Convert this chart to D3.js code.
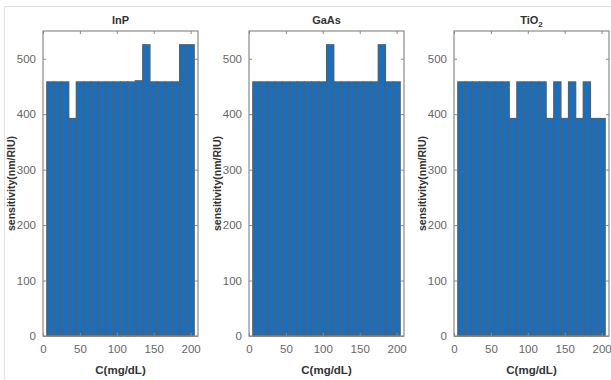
<!DOCTYPE html>
<html lang="en">
<head>
<meta charset="utf-8">
<title>Sensitivity vs concentration</title>
<script src="https://d3js.org/d3.v7.min.js"></script>
<style>
  body { margin: 0; background: #fff; }
  svg { font-family: "Liberation Sans", Arial, sans-serif; }
</style>
</head>
<body>
<script>
// concentration values (mg/dL)
var conc = [10, 20, 30, 40, 50, 60, 70, 80, 90, 100, 110, 120, 130, 140, 150, 160, 170, 180, 190, 200];

// sensitivity (nm/RIU) for each material
var inp  = [458, 458, 458, 392, 458, 458, 458, 458, 458, 458, 458, 458, 460, 525, 458, 458, 458, 458, 525, 525];
var gaas = [458, 458, 458, 458, 458, 458, 458, 458, 458, 458, 525, 458, 458, 458, 458, 458, 458, 525, 458, 458];
var tio2 = [458, 458, 458, 458, 458, 458, 458, 392, 458, 458, 458, 458, 392, 458, 392, 458, 392, 458, 392, 392];

var titles = ["InP", "GaAs", "TiO2"];
var series = [inp, gaas, tio2];
var xTicks = [0, 50, 100, 150, 200];
var yTicks = [0, 100, 200, 300, 400, 500];

var w = 611, h = 380;
var panelLeft = [43, 249, 454];
var pw = 155;
var plotTop = 31, plotBottom = 336;

var svg = d3.select("body").append("svg")
  .attr("width", w)
  .attr("height", h);

// faint frame of the figure
svg.append("rect")
  .attr("x", 4.5).attr("y", 6.5)
  .attr("width", 620).attr("height", 400)
  .attr("fill", "none")
  .attr("stroke", "#e4e4e4");

var yScale = d3.scaleLinear().domain([0, 550]).range([plotBottom, plotTop]);

series.forEach(function(vals, i) {
  var x0 = panelLeft[i];
  var xScale = d3.scaleLinear().domain([0, 210]).range([x0, x0 + pw]);
  var g = svg.append("g");
  var bw = xScale(10) - xScale(0);

  // bars
  g.selectAll("rect.bar")
    .data(conc)
    .enter()
    .append("rect")
    .attr("class", "bar")
    .attr("x", (d) => xScale(d) - bw * 0.47)
    .attr("width", bw * 0.94)
    .attr("y", (d, j) => yScale(vals[j]))
    .attr("height", (d, j) => plotBottom - yScale(vals[j]))
    .attr("fill", "#1470c4")
    .attr("stroke", "#55606a")
    .attr("stroke-width", 1.5);

  // box
  g.append("rect")
    .attr("x", x0).attr("y", plotTop)
    .attr("width", pw).attr("height", plotBottom - plotTop)
    .attr("fill", "none")
    .attr("stroke", "#8a8a8a")
    .attr("stroke-width", 1.2);

  // axes (ticks pointing inward)
  var tickCol = "#8a8a8a";
  g.append("g")
    .attr("transform", "translate(0," + plotBottom + ")")
    .call(d3.axisBottom(xScale).tickValues(xTicks).tickSize(-3).tickPadding(9))
    .call(function(a) {
      a.select(".domain").remove();
      a.selectAll("line").attr("stroke", tickCol);
      a.selectAll("text").attr("fill", "#666").style("font-size", "11.5px");
    });
  g.append("g")
    .attr("transform", "translate(0," + plotTop + ")")
    .call(d3.axisTop(xScale).tickValues(xTicks).tickSize(-3).tickFormat(""))
    .call(function(a) {
      a.select(".domain").remove();
      a.selectAll("line").attr("stroke", tickCol);
    });
  g.append("g")
    .attr("transform", "translate(" + x0 + ",0)")
    .call(d3.axisLeft(yScale).tickValues(yTicks).tickSize(-3).tickPadding(7))
    .call(function(a) {
      a.select(".domain").remove();
      a.selectAll("line").attr("stroke", tickCol);
      a.selectAll("text").attr("fill", "#666").style("font-size", "11.5px");
    });
  g.append("g")
    .attr("transform", "translate(" + (x0 + pw) + ",0)")
    .call(d3.axisRight(yScale).tickValues(yTicks).tickSize(-3).tickFormat(""))
    .call(function(a) {
      a.select(".domain").remove();
      a.selectAll("line").attr("stroke", tickCol);
    });

  // title
  var t = g.append("text")
    .attr("x", x0 + pw / 2)
    .attr("y", 24)
    .attr("text-anchor", "middle")
    .attr("font-weight", "bold")
    .attr("font-size", "11px")
    .attr("fill", "#333");
  if (titles[i] === "TiO2") {
    t.append("tspan").text("TiO");
    t.append("tspan").attr("dy", 3).attr("font-size", "8px").text("2");
  } else {
    t.text(titles[i]);
  }

  // x label
  g.append("text")
    .attr("x", x0 + pw / 2)
    .attr("y", 374)
    .attr("text-anchor", "middle")
    .attr("font-weight", "bold")
    .attr("font-size", "11.5px")
    .attr("fill", "#333")
    .text("C(mg/dL)");

  // y label
  g.append("text")
    .attr("transform", "translate(" + (x0 - 28) + "," + ((plotTop + plotBottom) / 2) + ") rotate(-90)")
    .attr("text-anchor", "middle")
    .attr("font-weight", "bold")
    .attr("font-size", "10.5px")
    .attr("fill", "#333")
    .text("sensitivity(nm/RIU)");
});
</script>
</body>
</html>
